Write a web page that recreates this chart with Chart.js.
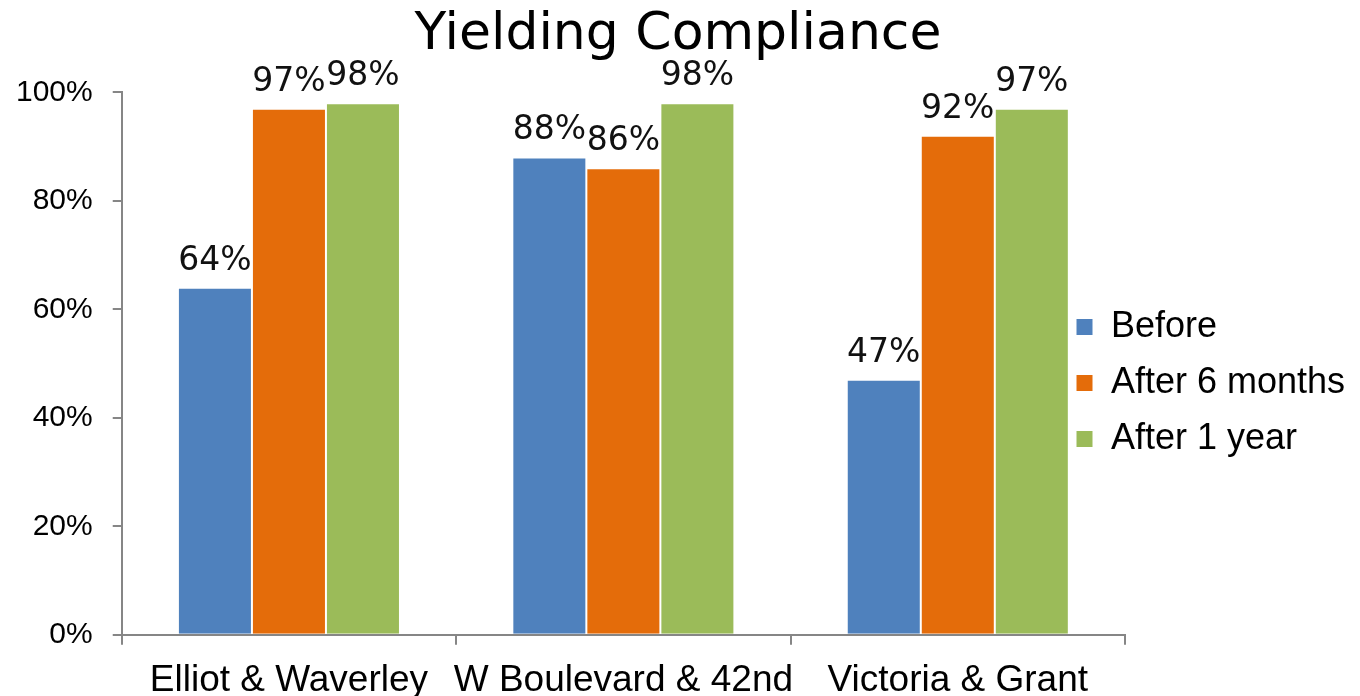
<!DOCTYPE html>
<html>
<head>
<meta charset="utf-8">
<title>Yielding Compliance</title>
<script src="https://cdn.jsdelivr.net/npm/chart.js@4"></script>
<style>
    html, body { margin: 0; padding: 0; background: #ffffff; }
    .chart-container { position: relative; width: 1360px; height: 696px; }
</style>
</head>
<body>
<div class="chart-container">
    <canvas id="barChart"></canvas>
</div>
<script>
// Data
const intersections = ['Elliot & Waverley', 'W Boulevard & 42nd', 'Victoria & Grant'];
const before = [64, 88, 47];
const after6Months = [97, 86, 92];
const after1Year = [98, 98, 97];
const yTicks = [0, 20, 40, 60, 80, 100];

const axisGrey = '#868686';

// Label persen di atas tiap batang
const barLabels = {
    id: 'barLabels',
    afterDatasetsDraw(chart) {
        const ctx = chart.ctx;
        ctx.save();
        ctx.font = '33px "DejaVu Sans"';
        ctx.fillStyle = '#111111';
        ctx.textAlign = 'center';
        ctx.textBaseline = 'alphabetic';
        chart.data.datasets.forEach((ds, i) => {
            chart.getDatasetMeta(i).data.forEach((bar, j) => {
                ctx.fillText(ds.data[j] + '%', bar.x, bar.y - 18);
            });
        });
        ctx.restore();
    }
};

// Legend sits partly over the plot's right margin, like the original
const legendPlacement = {
    id: 'legendPlacement',
    afterLayout(chart) {
        const lg = chart.legend;
        lg.left = 1056;
        lg.right = 1360;
        lg.top = 289;
        lg.bottom = 696;
    }
};

const barCtx = document.getElementById('barChart').getContext('2d');
new Chart(barCtx, {
    type: 'bar',
    data: {
        labels: intersections,
        datasets: [
            { label: 'Before', data: before, backgroundColor: '#4F81BD' },
            { label: 'After 6 months', data: after6Months, backgroundColor: '#E46C0A' },
            { label: 'After 1 year', data: after1Year, backgroundColor: '#9BBB59' }
        ]
    },
    options: {
        responsive: true,
        maintainAspectRatio: false,
        animation: false,
        categoryPercentage: 0.664,
        barPercentage: 1.0,
        datasets: {
            bar: { borderColor: '#ffffff', borderWidth: 1 }
        },
        layout: {
            padding: { left: -4, right: 0, top: 0, bottom: -20 }
        },
        plugins: {
            title: {
                display: true,
                text: 'Yielding Compliance',
                color: '#000000',
                font: { family: '"DejaVu Sans"', size: 52, weight: 'normal', lineHeight: 1.2 },
                padding: { top: 4, bottom: 26 }
            },
            legend: {
                display: true,
                position: 'right',
                align: 'start',
                maxWidth: 235,
                labels: {
                    color: '#000000',
                    font: { family: '"Liberation Sans"', size: 36 },
                    boxWidth: 17,
                    boxHeight: 17,
                    padding: 20
                }
            },
            tooltip: { enabled: false }
        },
        scales: {
            x: {
                grid: {
                    drawOnChartArea: false,
                    drawTicks: true,
                    tickLength: 10,
                    color: axisGrey,
                    lineWidth: 2
                },
                border: { color: axisGrey, width: 2 },
                ticks: {
                    color: '#000000',
                    font: { family: '"Liberation Sans"', size: 37, lineHeight: 0.9 },
                    padding: 19,
                    maxRotation: 0,
                    minRotation: 0,
                    autoSkip: false
                }
            },
            y: {
                min: 0,
                max: 100,
                afterBuildTicks(scale) {
                    scale.ticks = yTicks.map(v => ({ value: v }));
                },
                grid: {
                    drawOnChartArea: false,
                    drawTicks: true,
                    tickLength: 9,
                    color: axisGrey,
                    lineWidth: 2
                },
                border: { color: axisGrey, width: 2 },
                ticks: {
                    color: '#000000',
                    font: { family: '"Liberation Sans"', size: 30 },
                    padding: 20,
                    callback: v => v + '%'
                }
            }
        }
    },
    plugins: [barLabels, legendPlacement]
});
</script>
</body>
</html>
